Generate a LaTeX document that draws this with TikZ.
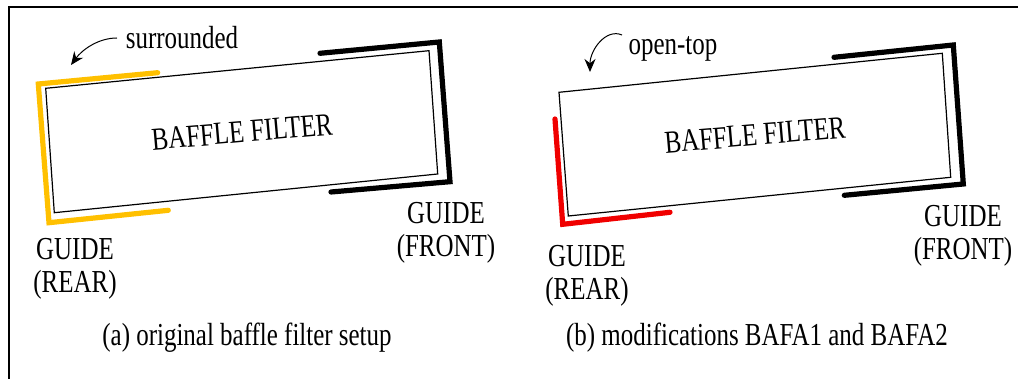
\documentclass[tikz,border=0pt]{standalone}
\usepackage{fontspec}
\setmainfont[FakeStretch=0.78]{Liberation Serif}
\usetikzlibrary{arrows.meta}
\definecolor{guideyellow}{RGB}{255,192,0}
\definecolor{guidered}{RGB}{240,0,0}

\begin{document}
\begin{tikzpicture}[x=0.5pt, y=-0.5pt,
  box/.style={line width=0.6pt, line join=miter},
  guide/.style={line width=2.6pt, line cap=round, line join=miter},
  lbl/.style={inner sep=0pt, align=center, font=\fontsize{16}{16.5}\selectfont},
  curly/.style={-{Stealth[length=6.5pt, width=5.5pt]}, line width=0.5pt}]
  \useasboundingbox (0,0) rectangle (1018,379);
  \draw[line width=1pt] (1018,7) -- (9,7) -- (9,379);

  % (a) original setup
  \coordinate (A1) at (45.7,88.3);
  \coordinate (A2) at (429,50.7);
  \coordinate (A3) at (437.7,174);
  \coordinate (A4) at (54.3,212.7);
  \draw[box] (A1) -- (A2) -- (A3) -- (A4) -- cycle;
  \draw[guide, guideyellow] (157.7,72.7) -- (38.3,84) -- (49,222.7) -- (168.3,210.3);
  \draw[guide] (320,53.3) -- (439.3,42) -- (450,181.7) -- (331,192);
  \node[lbl, rotate=5] (filterA) at (242,132) {BAFFLE FILTER};
  \node[lbl] (surr) at (182,38) {surrounded};
  \coordinate (surrtip) at (71,65);
  \draw[curly] (117,38) .. controls (98,38) and (82,50) .. (surrtip);
  \node[lbl] (rearA) at (75,269) {GUIDE\\(REAR)};
  \node[lbl] (frontA) at (446,233) {GUIDE\\(FRONT)};
  \node[lbl] (capA) at (247,338) {(a) original baffle filter setup};

  % (b) modifications
  \coordinate (B1) at (559,92.3);
  \coordinate (B2) at (942.3,53.3);
  \coordinate (B3) at (950.7,177.3);
  \coordinate (B4) at (568.3,216);
  \draw[box] (B1) -- (B2) -- (B3) -- (B4) -- cycle;
  \draw[guide, guidered] (555,119) -- (562.7,224.3) -- (670,212.3);
  \draw[guide] (834,57.3) -- (953.3,45) -- (963.3,184) -- (844.3,195.3);
  \node[lbl, rotate=5] (filterB) at (755,135) {BAFFLE FILTER};
  \node[lbl] (otop) at (673,49) {open-top};
  \coordinate (otoptip) at (590,72);
  \draw[curly] (622,35) .. controls (606,28) and (590,50) .. (otoptip);
  \node[lbl] (rearB) at (587,276) {GUIDE\\(REAR)};
  \node[lbl] (frontB) at (963,236) {GUIDE\\(FRONT)};
  \node[lbl] (capB) at (757,338) {(b) modifications BAFA1 and BAFA2};
\end{tikzpicture}
\end{document}
